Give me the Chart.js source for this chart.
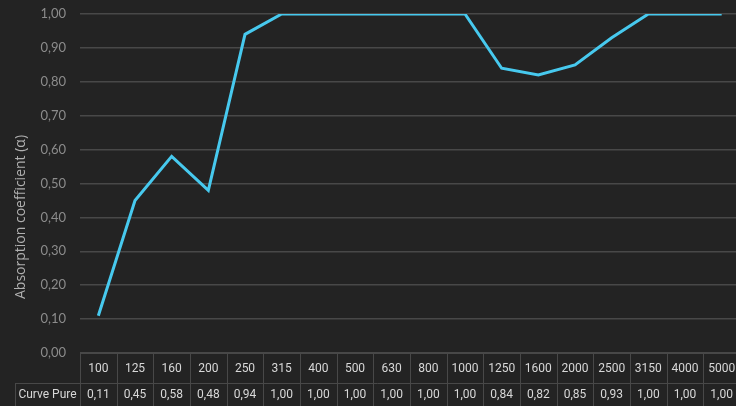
<!DOCTYPE html>
<html>
<head>
<meta charset="utf-8">
<script src="https://cdn.jsdelivr.net/npm/chart.js"></script>
<style>
  * { margin: 0; padding: 0; box-sizing: border-box; }
  html, body { width: 736px; height: 406px; overflow: hidden; background: #232323; }
  .wrap { width: 740px; height: 406px; position: relative; }
</style>
</head>
<body>
<div class="wrap"><canvas id="c"></canvas></div>
<script>
// frequencies (Hz) and absorption values
const frequencies = ["100", "125", "160", "200", "250", "315", "400", "500", "630", "800", "1000", "1250", "1600", "2000", "2500", "3150", "4000", "5000"];
const curvePure = [0.11, 0.45, 0.58, 0.48, 0.94, 1.00, 1.00, 1.00, 1.00, 1.00, 1.00, 0.84, 0.82, 0.85, 0.93, 1.00, 1.00, 1.00];
const seriesName = "Curve Pure";
const yTitle = "Absorption coefficient (α)";

const fmt = v => v.toFixed(2).replace('.', ',');
const gridColor = '#484848';

// draws the data table under the plot and the y title
const tablePlugin = {
    id: 'dataTable',
    afterDraw(chart) {
        const { ctx, chartArea } = chart;
        const x = chart.scales.x;
        const top = chartArea.bottom;
        const mid = top + 30;
        const bottom = chart.height;
        const colW = (chartArea.right - chartArea.left) / frequencies.length;
        const labelLeft = 15;

        ctx.save();
        ctx.strokeStyle = gridColor;
        ctx.lineWidth = 1;
        ctx.beginPath();
        // horizontal lines
        ctx.moveTo(chartArea.left, top + 0.5); ctx.lineTo(chartArea.right, top + 0.5);
        ctx.moveTo(labelLeft, mid + 0.5); ctx.lineTo(chartArea.right, mid + 0.5);
        // label cell left border
        ctx.moveTo(labelLeft + 0.5, mid); ctx.lineTo(labelLeft + 0.5, bottom);
        // column borders
        for (let i = 0; i <= frequencies.length; i++) {
            const px = Math.round(chartArea.left + i * colW) + 0.5;
            ctx.moveTo(px, top); ctx.lineTo(px, bottom);
        }
        ctx.stroke();

        ctx.font = '12px Roboto';
        ctx.fillStyle = '#d8d8d8';
        ctx.textAlign = 'center';
        ctx.textBaseline = 'middle';
        frequencies.forEach((f, i) => {
            const px = x.getPixelForValue(i);
            ctx.fillText(f, px, top + 16);
            ctx.fillText(fmt(curvePure[i]), px, mid + 12);
        });
        ctx.fillText(seriesName, (labelLeft + chartArea.left) / 2, mid + 12);

        // y axis title, centred over plot + table height
        ctx.translate(21, 217);
        ctx.rotate(-Math.PI / 2);
        ctx.font = '14px "Open Sans"';
        ctx.fillStyle = '#b0b0b0';
        ctx.fillText(yTitle, 0, 0);
        ctx.restore();
    }
};

new Chart(document.getElementById('c'), {
    type: 'line',
    data: {
        labels: frequencies,
        datasets: [{
            label: seriesName,
            data: curvePure,
            borderColor: '#47c9ee',
            borderWidth: 3,
            pointRadius: 0,
            tension: 0,
            fill: false
        }]
    },
    options: {
        responsive: true,
        maintainAspectRatio: false,
        animation: false,
        layout: { padding: { top: 14, bottom: 53, left: 0, right: 0 } },
        plugins: { legend: { display: false }, tooltip: { enabled: false } },
        scales: {
            x: {
                display: false,
                offset: true
            },
            y: {
                min: 0,
                max: 1,
                afterFit: s => { s.width = 80; s.paddingTop = 0; s.paddingBottom = 0; },
                border: { display: false },
                grid: { color: gridColor, lineWidth: 1.5, drawTicks: false },
                ticks: {
                    stepSize: 0.1,
                    padding: 14,
                    color: '#8c8c8c',
                    font: { family: 'Lato', size: 13 },
                    callback: v => fmt(v)
                }
            }
        }
    },
    plugins: [tablePlugin]
});
</script>
</body>
</html>
